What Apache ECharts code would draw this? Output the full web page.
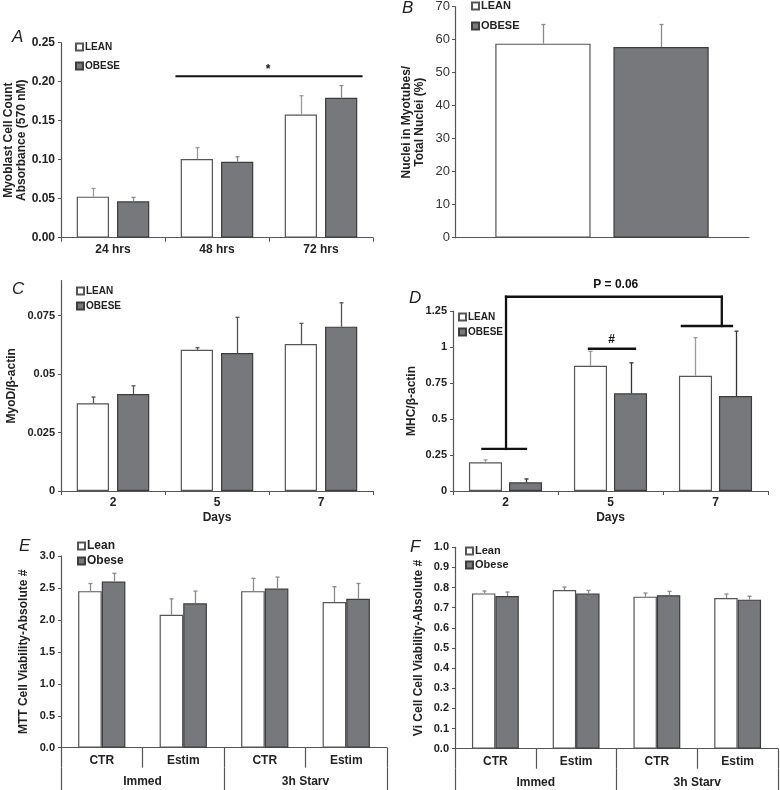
<!DOCTYPE html>
<html><head><meta charset="utf-8">
<script src="https://cdn.jsdelivr.net/npm/echarts@6/dist/echarts.min.js"></script>
<style>html,body{margin:0;padding:0;background:#fff}#c{width:780px;height:790px}</style>
</head><body><div id="c"></div>
<script>
// ---------- DATA ----------
// Panel A
const catsA = ['24 hrs', '48 hrs', '72 hrs'];
const leanA = [0.0526, 0.1009, 0.158];
const leanErrA = [0.0106, 0.0145, 0.024];
const obeseA = [0.0466, 0.0974, 0.1795];
const obeseErrA = [0.0051, 0.0064, 0.0155];
// Panel B
const catsB = [''];
const leanB = [58.8];
const leanErrB = [5.8];
const obeseB = [57.8];
const obeseErrB = [6.8];
// Panel C
const catsC = ['2', '5', '7'];
const leanC = [0.0375, 0.0604, 0.0629];
const leanErrC = [0.0027, 0.0009, 0.0088];
const obeseC = [0.0415, 0.059, 0.0703];
const obeseErrC = [0.0035, 0.0153, 0.0102];
const ticksC = [0, 0.025, 0.05, 0.075];
// Panel D
const catsD = ['2', '5', '7'];
const leanD = [0.20, 0.87, 0.80];
const leanErrD = [0.016, 0.10, 0.265];
const obeseD = [0.06, 0.678, 0.66];
const obeseErrD = [0.024, 0.212, 0.45];
// Panel E
const catsE = ['CTR', 'Estim', 'CTR', 'Estim'];
const groupsE = ['Immed', '3h Starv'];
const leanE = [2.45, 2.08, 2.45, 2.28];
const leanErrE = [0.12, 0.25, 0.20, 0.24];
const obeseE = [2.60, 2.26, 2.49, 2.33];
const obeseErrE = [0.13, 0.19, 0.18, 0.24];
// Panel F
const catsF = ['CTR', 'Estim', 'CTR', 'Estim'];
const groupsF = ['Immed', '3h Starv'];
const leanF = [0.771, 0.788, 0.755, 0.748];
const leanErrF = [0.012, 0.015, 0.018, 0.020];
const obeseF = [0.758, 0.771, 0.762, 0.740];
const obeseErrF = [0.020, 0.015, 0.019, 0.017];

// ---------- STYLE ----------
const FONT = '"Liberation Sans", Arial, sans-serif';
const LEAN_STYLE = {color: '#ffffff', borderColor: '#555555', borderWidth: 1.2};
const OBESE_STYLE = {color: '#77787b', borderColor: '#3d3d3d', borderWidth: 1.2};
const AXIS_COL = '#555';
const TXT = '#222';

function barSeries(gi, name, vals, style, w, gap) {
  return {type: 'bar', name: name, xAxisIndex: gi, yAxisIndex: gi, data: vals,
    itemStyle: style, barWidth: w, barGap: gap, silent: true, z: 2};
}
function errSeries(gi, vals, errs, side, wRatio, gapRatio, color) {
  return {
    type: 'custom', xAxisIndex: gi, yAxisIndex: gi, silent: true, z: 5, clip: false,
    data: vals.map((v, i) => [i, v]),
    renderItem(params, api) {
      const i = params.dataIndex;
      const band = api.size([1, 0])[0];
      const bw = band * wRatio, gp = bw * gapRatio;
      const off = side * (bw + gp) / 2;
      const p0 = api.coord([i, vals[i]]);
      const p1 = api.coord([i, vals[i] + errs[i]]);
      const x = Math.round(p0[0] + off) + 0.5;
      return {type: 'group', children: [
        {type: 'line', shape: {x1: x, y1: p0[1], x2: x, y2: p1[1]}, style: {stroke: color, lineWidth: 1.3}},
        {type: 'line', shape: {x1: x - 2, y1: p1[1], x2: x + 2, y2: p1[1]}, style: {stroke: color, lineWidth: 1.3}}
      ]};
    }
  };
}
function annoSeries(gi, items, lw) {
  return {
    type: 'custom', xAxisIndex: gi, yAxisIndex: gi, silent: true, z: 6, clip: false,
    data: items.map(() => [0, 0]),
    renderItem(params, api) {
      const a = items[params.dataIndex];
      const band = api.size([1, 0])[0];
      const x0 = api.coord([0, 0])[0];
      const X = f => x0 + f * band;
      const Y = v => api.coord([0, v])[1];
      if (a.t === 'line') {
        return {type: 'line', shape: {x1: X(a.x1), y1: Y(a.y1), x2: X(a.x2), y2: Y(a.y2)},
          style: {stroke: '#111', lineWidth: lw, lineCap: 'square'}};
      }
      return {type: 'text', x: X(a.x), y: Y(a.y),
        style: {text: a.text, fill: '#111', font: 'bold 12px ' + FONT, align: 'center', verticalAlign: 'middle'}};
    }
  };
}

// significance annotations (positions in category-band / value units)
const annoA = [
  {t: 'line', x1: 0.61, y1: 0.207, x2: 2.39, y2: 0.207},
  {t: 'text', x: 1.49, y: 0.216, text: '*'}
];
const annoD = [
  {t: 'line', x1: 0.005, y1: 1.349, x2: 2.06, y2: 1.349},
  {t: 'line', x1: 0.005, y1: 1.349, x2: 0.005, y2: 0.292},
  {t: 'line', x1: 2.06, y1: 1.349, x2: 2.06, y2: 1.146},
  {t: 'line', x1: -0.22, y1: 0.292, x2: 0.195, y2: 0.292},
  {t: 'line', x1: 1.68, y1: 1.146, x2: 2.157, y2: 1.146},
  {t: 'line', x1: 0.795, y1: 0.988, x2: 1.233, y2: 0.988},
  {t: 'text', x: 1.05, y: 1.43, text: 'P = 0.06'},
  {t: 'text', x: 1.01, y: 1.05, text: '#'}
];

function xCat(gi, data, extra) {
  return Object.assign({
    gridIndex: gi, type: 'category', data: data,
    axisLine: {show: true, lineStyle: {color: AXIS_COL, width: 1.2}},
    axisTick: {show: true, length: 4, lineStyle: {color: AXIS_COL}},
    axisLabel: {fontWeight: 'bold', fontSize: 12, color: TXT, margin: 6, fontFamily: FONT},
    splitLine: {show: false}
  }, extra || {});
}
function yVal(gi, min, max, interval, name, nameGap, labelExtra, extra) {
  return Object.assign({
    gridIndex: gi, type: 'value', min: min, max: max, interval: interval,
    axisLine: {show: true, lineStyle: {color: AXIS_COL, width: 1.2}},
    axisTick: {show: true, length: 3, lineStyle: {color: AXIS_COL}},
    splitLine: {show: false},
    axisLabel: Object.assign({fontWeight: 'bold', fontSize: 11, color: TXT, margin: 6, fontFamily: FONT}, labelExtra || {}),
    name: name, nameLocation: 'middle', nameGap: nameGap,
    nameTextStyle: {fontWeight: 'bold', fontSize: 12, color: TXT, lineHeight: 13, fontFamily: FONT}
  }, extra || {});
}
function legend(left, top, names, gap, fs) {
  return {left: left, top: top, orient: 'vertical', padding: 0, itemGap: gap,
    itemWidth: 7, itemHeight: 7, icon: 'rect', data: names, selectedMode: false,
    textStyle: {fontWeight: 'bold', fontSize: fs, color: TXT, lineHeight: 12, fontFamily: FONT, padding: [0, 0, 0, -3]}};
}
function letter(t, left, top) {
  return {text: t, left: left, top: top, padding: 0,
    textStyle: {fontStyle: 'italic', fontWeight: 'normal', fontSize: 17, color: TXT, fontFamily: FONT}};
}

const option = {
  animation: false,
  textStyle: {fontFamily: FONT},
  title: [letter('A', 12, 29), letter('B', 402, 0), letter('C', 12, 281), letter('D', 409, 290),
          letter('E', 19, 538), letter('F', 410, 539)],
  legend: [
    legend(75, 41, ['LEAN', 'OBESE'], 7, 10),
    legend(471, 0, ['LEAN ', 'OBESE '], 8, 11),
    legend(76, 285, ['LEAN  ', 'OBESE  '], 3, 10),
    legend(458, 311, ['LEAN   ', 'OBESE   '], 3, 10),
    legend(77, 540, ['Lean', 'Obese'], 3, 12),
    legend(465, 545, ['Lean ', 'Obese '], 2, 11)
  ],
  grid: [
    {left: 61, top: 42.7, width: 312, height: 195},
    {left: 455, top: 6.7, width: 294, height: 231},
    {left: 61, top: 280.6, width: 312, height: 210.4},
    {left: 453, top: 311, width: 315, height: 180},
    {left: 61, top: 556, width: 326, height: 191.7},
    {left: 455, top: 547.3, width: 323, height: 201.4}
  ],
  xAxis: [
    xCat(0, catsA),
    xCat(1, catsB, {axisTick: {show: false}, axisLabel: {show: false}}),
    xCat(2, catsC, {name: 'Days', nameLocation: 'middle', nameGap: 21,
      nameTextStyle: {fontWeight: 'bold', fontSize: 12, color: TXT, fontFamily: FONT}}),
    xCat(3, catsD, {name: 'Days', nameLocation: 'middle', nameGap: 21,
      nameTextStyle: {fontWeight: 'bold', fontSize: 12, color: TXT, fontFamily: FONT}}),
    xCat(4, catsE, {axisTick: {show: true, length: 20, lineStyle: {color: AXIS_COL, width: 1.2}},
      axisLabel: {fontWeight: 'bold', fontSize: 12, color: TXT, margin: 7, fontFamily: FONT}}),
    xCat(5, catsF, {axisTick: {show: true, length: 20, lineStyle: {color: AXIS_COL, width: 1.2}},
      axisLabel: {fontWeight: 'bold', fontSize: 12, color: TXT, margin: 7, fontFamily: FONT}}),
    xCat(4, groupsE, {position: 'bottom', offset: 20, axisLine: {show: false},
      axisTick: {show: true, length: 23, lineStyle: {color: AXIS_COL, width: 1.2}},
      axisLabel: {fontWeight: 'bold', fontSize: 12, color: TXT, margin: 8, fontFamily: FONT}}),
    xCat(5, groupsF, {position: 'bottom', offset: 20, axisLine: {show: false},
      axisTick: {show: true, length: 23, lineStyle: {color: AXIS_COL, width: 1.2}},
      axisLabel: {fontWeight: 'bold', fontSize: 12, color: TXT, margin: 8, fontFamily: FONT}})
  ],
  yAxis: [
    yVal(0, 0, 0.25, 0.05, 'Myoblast Cell Count\nAbsorbance (570 nM)', 33,
      {fontSize: 12, formatter: v => v.toFixed(2)}),
    yVal(1, 0, 70, 10, 'Nuclei in Myotubes/\nTotal Nuclei (%)', 29,
      {fontWeight: 'normal', fontSize: 13, color: '#333', margin: 5}),
    yVal(2, 0, 0.09, 0.025, 'MyoD/\u03b2-actin', 43,
      {customValues: ticksC, formatter: v => (ticksC.some(t => Math.abs(t - v) < 1e-9) ? String(v) : '')},
      {axisTick: {show: true, length: 3, customValues: ticksC, lineStyle: {color: AXIS_COL}}}),
    yVal(3, 0, 1.25, 0.25, 'MHC/\u03b2-actin', 35, {}),
    yVal(4, 0, 3, 0.5, 'MTT Cell Viability-Absolute #', 31, {formatter: v => v.toFixed(1)}),
    yVal(5, 0, 1, 0.1, 'Vi Cell Cell Viability-Absolute #', 30, {formatter: v => v.toFixed(1)})
  ],
  series: [
    barSeries(0, 'LEAN', leanA, LEAN_STYLE, '31%', '25%'),
    barSeries(0, 'OBESE', obeseA, OBESE_STYLE, '31%', '25%'),
    errSeries(0, leanA, leanErrA, -1, 0.31, 0.25, '#9a9a9a'),
    errSeries(0, obeseA, obeseErrA, 1, 0.31, 0.25, '#8a8a8a'),
    annoSeries(0, annoA, 2),

    barSeries(1, 'LEAN ', leanB, LEAN_STYLE, '32.4%', '24%'),
    barSeries(1, 'OBESE ', obeseB, OBESE_STYLE, '32.4%', '24%'),
    errSeries(1, leanB, leanErrB, -1, 0.324, 0.24, '#8a8a8a'),
    errSeries(1, obeseB, obeseErrB, 1, 0.324, 0.24, '#8a8a8a'),

    barSeries(2, 'LEAN  ', leanC, LEAN_STYLE, '31%', '25%'),
    barSeries(2, 'OBESE  ', obeseC, OBESE_STYLE, '31%', '25%'),
    errSeries(2, leanC, leanErrC, -1, 0.31, 0.25, '#555'),
    errSeries(2, obeseC, obeseErrC, 1, 0.31, 0.25, '#555'),

    barSeries(3, 'LEAN   ', leanD, LEAN_STYLE, '31.5%', '21%'),
    barSeries(3, 'OBESE   ', obeseD, OBESE_STYLE, '31.5%', '21%'),
    errSeries(3, leanD, leanErrD, -1, 0.315, 0.21, '#9a9a9a'),
    errSeries(3, obeseD, obeseErrD, 1, 0.315, 0.21, '#333'),
    annoSeries(3, annoD, 2.3),

    barSeries(4, 'Lean', leanE, LEAN_STYLE, '29%', '0%'),
    barSeries(4, 'Obese', obeseE, OBESE_STYLE, '29%', '0%'),
    errSeries(4, leanE, leanErrE, -1, 0.29, 0, '#8a8a8a'),
    errSeries(4, obeseE, obeseErrE, 1, 0.29, 0, '#8a8a8a'),

    barSeries(5, 'Lean ', leanF, LEAN_STYLE, '29%', '0%'),
    barSeries(5, 'Obese ', obeseF, OBESE_STYLE, '29%', '0%'),
    errSeries(5, leanF, leanErrF, -1, 0.29, 0, '#8a8a8a'),
    errSeries(5, obeseF, obeseErrF, 1, 0.29, 0, '#8a8a8a')
  ]
};
// legend text: strip padding spaces used to keep panel series names distinct
option.legend.forEach(l => { l.formatter = n => n.trim(); });
const chart = echarts.init(document.getElementById('c'), null, {renderer: 'canvas'});
chart.setOption(option);
</script></body></html>
